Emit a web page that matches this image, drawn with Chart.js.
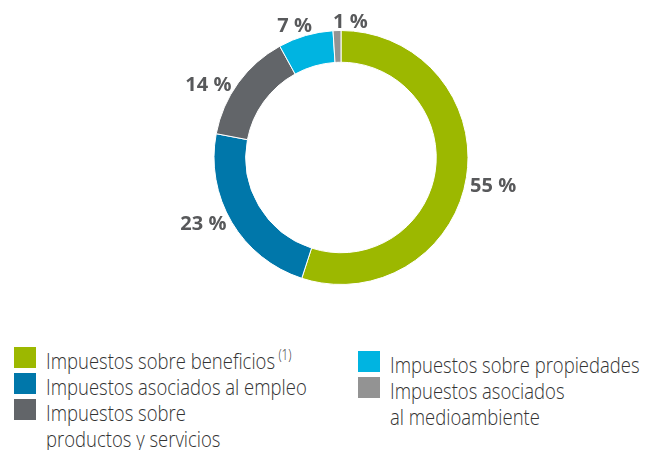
<!DOCTYPE html>
<html>
<head>
<meta charset="utf-8">
<script src="https://cdn.jsdelivr.net/npm/chart.js@4.4.0/dist/chart.umd.min.js"></script>
<style>
    html, body { margin: 0; padding: 0; background: #fff; }
    #wrap { position: relative; width: 661px; height: 450px; overflow: hidden; }
    #chartBox { position: absolute; left: 0; top: 0; width: 661px; height: 300px; }
    .legend-col {
        position: absolute;
        font-family: 'Open Sans', sans-serif;
        font-weight: 300;
        font-size: 22px;
        line-height: 26px;
        color: #333;
        white-space: nowrap;
    }
    .legend-item { position: relative; padding-left: 32px; }
    .legend-item .sw { position: absolute; left: 0; top: 0; width: 22px; height: 21px; }
    .legend-item .txt { transform: scaleX(0.84); transform-origin: 0 0; }
    .legend-item sup { font-size: 14px; vertical-align: 9px; line-height: 0; margin-left: 4px; }
</style>
</head>
<body>
<div id="wrap">
    <div id="chartBox"><canvas id="taxChart"></canvas></div>
    <div class="legend-col" id="legendLeft" style="left:14px; top:347px;"></div>
    <div class="legend-col" id="legendRight" style="left:358px; top:351px;"></div>
</div>
<script>
// --- Data ---
const categories = [
    ['Impuestos sobre beneficios'],
    ['Impuestos asociados al empleo'],
    ['Impuestos sobre', 'productos y servicios'],
    ['Impuestos sobre propiedades'],
    ['Impuestos asociados', 'al medioambiente']
];
const footnotes = ['(1)', '', '', '', ''];
const shares = [55, 23, 14, 7, 1];
const shareLabels = ['55 %', '23 %', '14 %', '7 %', '1 %'];

// --- Colours ---
const sliceColors = ['#9cb800', '#0077aa', '#626569', '#00b4e1', '#939393'];
const labelColor = '#58595b';

// --- Percentage labels around the ring ---
const sliceLabels = {
    id: 'sliceLabels',
    afterDatasetsDraw(chart, args, opts) {
        const ctx = chart.ctx;
        const meta = chart.getDatasetMeta(0);
        ctx.save();
        ctx.font = opts.font;
        ctx.fillStyle = opts.color;
        ctx.textAlign = 'center';
        ctx.textBaseline = 'alphabetic';
        meta.data.forEach((arc, i) => {
            const p = arc.getProps(['x', 'y', 'startAngle', 'endAngle', 'outerRadius'], true);
            const mid = (p.startAngle + p.endAngle) / 2;
            const dx = Math.cos(mid), dy = Math.sin(mid);
            const text = shareLabels[i];
            const w = ctx.measureText(text).width;
            const h = opts.capHeight;
            const r = p.outerRadius + opts.gap;
            const n = opts.nudge[i] || [0, 0];
            const cx = p.x + r * dx + dx * w / 2 + n[0];
            const cy = p.y + r * dy + dy * h / 2 + n[1];
            ctx.fillText(text, cx, cy + h / 2);
        });
        ctx.restore();
    }
};

// --- HTML legend in two columns ---
const htmlLegend = {
    id: 'htmlLegend',
    afterUpdate(chart) {
        const left = document.getElementById('legendLeft');
        const right = document.getElementById('legendRight');
        left.innerHTML = '';
        right.innerHTML = '';
        const colors = chart.data.datasets[0].backgroundColor;
        chart.data.labels.forEach((lines, i) => {
            const item = document.createElement('div');
            item.className = 'legend-item';
            const sw = document.createElement('span');
            sw.className = 'sw';
            sw.style.background = colors[i];
            item.appendChild(sw);
            const txt = document.createElement('div');
            txt.className = 'txt';
            lines.forEach((line, j) => {
                const row = document.createElement('div');
                row.textContent = line;
                if (j === 0 && footnotes[i]) {
                    const sup = document.createElement('sup');
                    sup.textContent = footnotes[i];
                    row.appendChild(sup);
                }
                txt.appendChild(row);
            });
            item.appendChild(txt);
            (i < 3 ? left : right).appendChild(item);
        });
    }
};

new Chart(document.getElementById('taxChart'), {
    type: 'doughnut',
    data: {
        labels: categories,
        datasets: [{
            data: shares,
            backgroundColor: sliceColors,
            borderColor: '#ffffff',
            borderWidth: 1
        }]
    },
    options: {
        responsive: true,
        maintainAspectRatio: false,
        animation: false,
        cutout: '75%',
        layout: { padding: { top: 30, bottom: 15, left: 21, right: 0 } },
        plugins: {
            legend: { display: false },
            tooltip: { enabled: false },
            sliceLabels: {
                font: "bold 20px 'Open Sans', sans-serif",
                color: labelColor,
                capHeight: 14.3,
                gap: 4,
                nudge: [[0, 6], [-5, -5], [-8, 8], [-5, 0], [14, 1]]
            }
        }
    },
    plugins: [sliceLabels, htmlLegend]
});
</script>
</body>
</html>
